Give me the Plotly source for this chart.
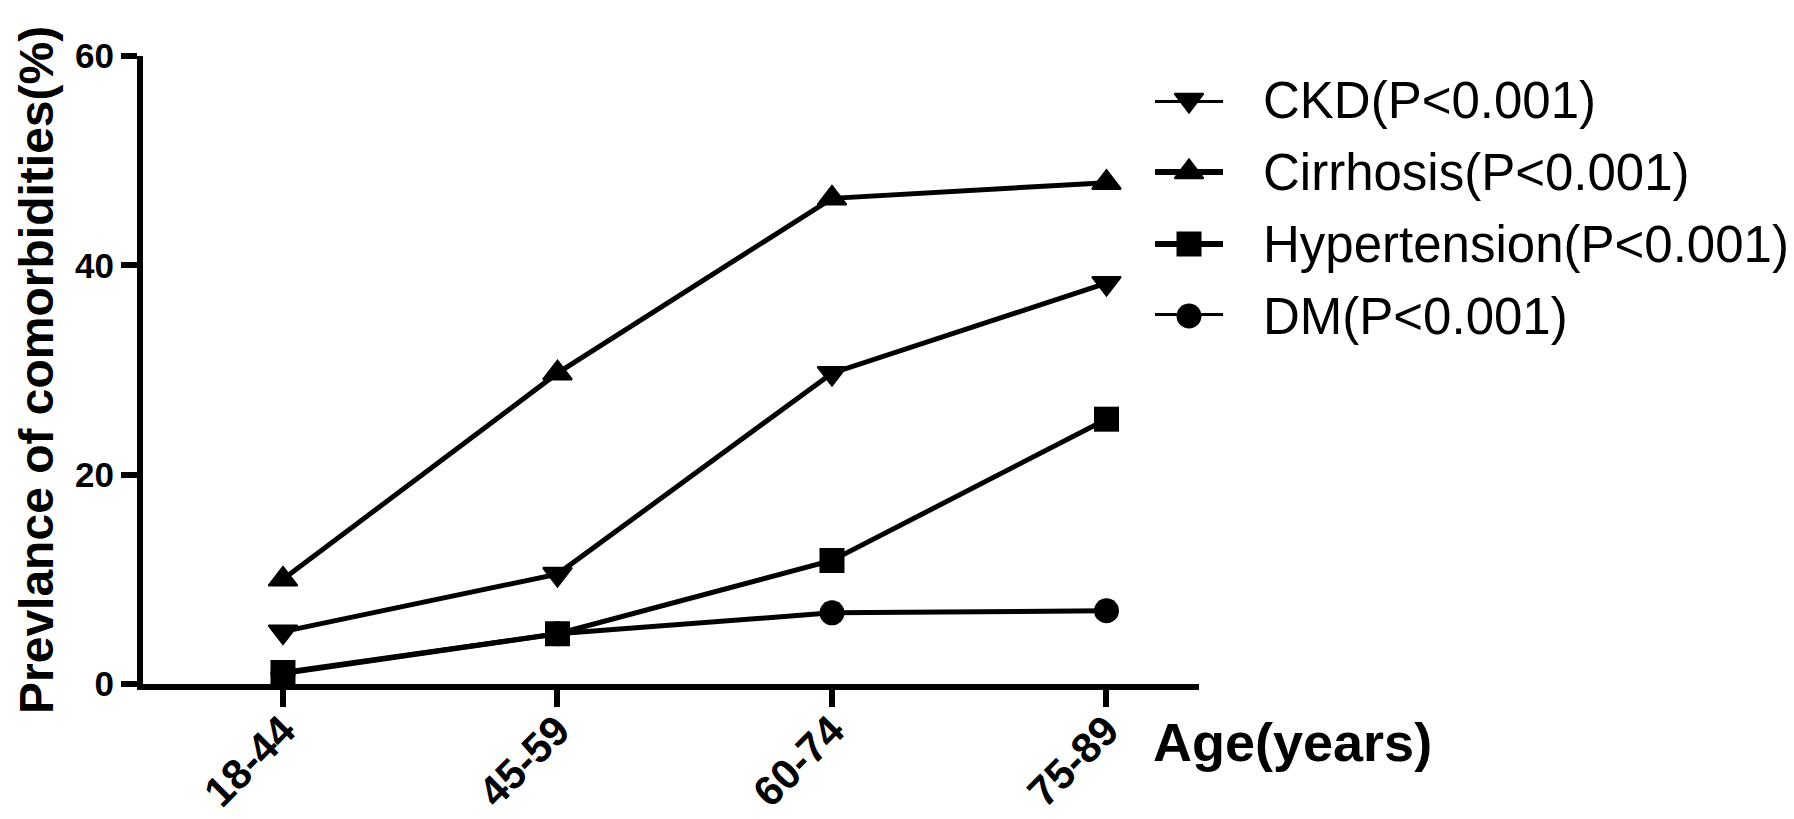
import plotly.graph_objects as go

# ---- data ----
categories = ["18-44", "45-59", "60-74", "75-89"]
ckd = [5.0, 10.5, 29.7, 38.3]
cirrhosis = [10.0, 29.7, 46.4, 47.9]
hypertension = [1.1, 4.8, 11.8, 25.3]
dm = [1.0, 4.8, 6.8, 7.0]
series_names = ["CKD(P<0.001)", "Cirrhosis(P<0.001)", "Hypertension(P<0.001)", "DM(P<0.001)"]
y_ticks = [0, 20, 40, 60]
x_title = "Age(years)"
y_title = "Prevlance of comorbidities(%)"

# ---- styling ----
OFF = 8                      # default page body margin
W, H = 1794 - OFF, 819 - OFF
ML, MR, MT, MB = 143 - OFF, 0, 56 - OFF, 135
PW = W - ML - MR
PH = H - MT - MB
FONT = "Liberation Sans, Arial, sans-serif"
LW = 5

def px_x(sx):
    return (sx - OFF - ML) / PW

def px_y(sy):
    return (H - MB - (sy - OFF)) / PH

symbols = {"CKD(P<0.001)": "triangle-down", "Cirrhosis(P<0.001)": "triangle-up",
           "Hypertension(P<0.001)": "square", "DM(P<0.001)": "circle"}
sizes = {"CKD(P<0.001)": 25, "Cirrhosis(P<0.001)": 25,
         "Hypertension(P<0.001)": 25, "DM(P<0.001)": 25}
mline = {"CKD(P<0.001)": 2, "Cirrhosis(P<0.001)": 2,
         "Hypertension(P<0.001)": 0, "DM(P<0.001)": 0}
values = {"CKD(P<0.001)": ckd, "Cirrhosis(P<0.001)": cirrhosis,
          "Hypertension(P<0.001)": hypertension, "DM(P<0.001)": dm}
draw_order = ["DM(P<0.001)", "Hypertension(P<0.001)", "CKD(P<0.001)", "Cirrhosis(P<0.001)"]

fig = go.Figure()
for name in draw_order:
    fig.add_trace(go.Scatter(
        x=categories, y=values[name], mode="lines+markers", name=name,
        line=dict(color="black", width=LW),
        marker=dict(symbol=symbols[name], size=sizes[name], color="black",
                    line=dict(width=mline[name], color="black")),
        showlegend=False, cliponaxis=False,
    ))

# custom legend glyphs (long line sample with centred marker)
n = len(series_names)
for i, name in enumerate(series_names):
    row = n - 1 - i
    fig.add_trace(go.Scatter(
        x=[0, 1], y=[row, row], mode="lines",
        line=dict(color="black", width=6),
        xaxis="x2", yaxis="y2", showlegend=False, cliponaxis=False, hoverinfo="skip",
    ))
    fig.add_trace(go.Scatter(
        x=[0.5], y=[row], mode="markers",
        marker=dict(symbol=symbols[name], size=sizes[name], color="black",
                    line=dict(width=mline[name], color="black")),
        xaxis="x2", yaxis="y2", showlegend=False, cliponaxis=False, hoverinfo="skip",
    ))
    fig.add_annotation(
        x=px_x(1261), xref="paper", y=row, yref="y2", text=name,
        showarrow=False, xanchor="left", yanchor="middle",
        font=dict(family=FONT, size=51, color="black"),
    )

fig.add_annotation(
    x=px_x(1151), xref="paper", y=px_y(742), yref="paper", text=x_title,
    showarrow=False, xanchor="left", yanchor="middle",
    font=dict(family=FONT, size=54, color="black", weight="bold"),
)
fig.add_annotation(
    x=px_x(36), xref="paper", y=0.5, yref="paper", text=y_title,
    showarrow=False, xanchor="center", yanchor="middle", textangle=-90,
    font=dict(family=FONT, size=48, color="black", weight="bold"),
)

fig.update_layout(
    width=W, height=H,
    margin=dict(l=ML, r=MR, t=MT, b=MB),
    paper_bgcolor="white", plot_bgcolor="white",
    showlegend=False,
    xaxis=dict(
        domain=[0, px_x(1199)], type="category", range=[-0.51, 3.337],
        automargin=False,
        showgrid=False, zeroline=False, showline=True, linecolor="black", linewidth=6,
        ticks="outside", ticklen=17, tickwidth=6, tickcolor="black",
        ticklabelstandoff=-18,
        tickangle=-45, tickfont=dict(family=FONT, size=42, color="black", weight="bold"),
    ),
    yaxis=dict(
        range=[0, 60], tickvals=y_ticks, showgrid=False, zeroline=False,
        automargin=False,
        showline=True, linecolor="black", linewidth=6,
        ticks="outside", ticklen=16, tickwidth=6, tickcolor="black",
        tickfont=dict(family=FONT, size=35, color="black", weight="bold"),
    ),
    xaxis2=dict(domain=[px_x(1155), px_x(1223)], range=[0, 1], anchor="y2",
                visible=False, fixedrange=True, automargin=False),
    yaxis2=dict(domain=[px_y(316), px_y(100)], range=[0, 3], anchor="x2",
                visible=False, fixedrange=True, automargin=False),
)

fig.write_html("out.html")
